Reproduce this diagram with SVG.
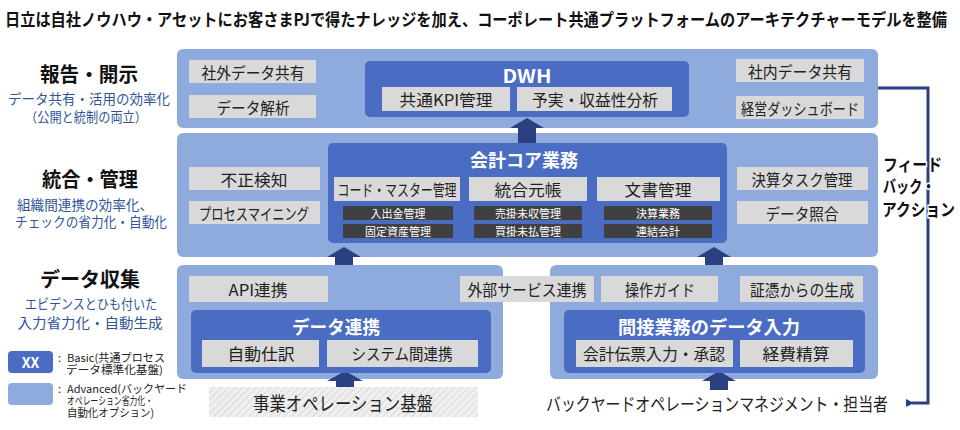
<svg xmlns="http://www.w3.org/2000/svg" width="960" height="430" viewBox="0 0 960 430">
<style>
.band{fill:#8FAADC}
.core{fill:#4A6DC3}
.lbox{fill:#D9D9D9}
.dbox{fill:#404040}
.arrow{fill:#2B4080}
.t{font-family:"Noto Sans CJK JP","Noto Sans",sans-serif;text-anchor:middle;dominant-baseline:central}
.box{font-size:16px;fill:#222}
.small{font-size:11px;fill:#fff}
.ttl{font-size:18px;font-weight:bold;fill:#fff}
.head{font-size:20px;font-weight:bold;fill:#111}
.sub{font-size:13.5px;fill:#2F5597}
.leg{font-family:"Noto Sans CJK JP","Noto Sans",sans-serif;font-size:11px;fill:#222;dominant-baseline:central}
.fb{font-family:"Noto Sans CJK JP","Noto Sans",sans-serif;font-size:17px;font-weight:bold;fill:#111;dominant-baseline:central;paint-order:stroke;stroke:#fff;stroke-width:3px}
</style>
<defs>
<pattern id="hatch" width="5" height="5" patternUnits="userSpaceOnUse" patternTransform="rotate(45)">
<rect width="5" height="5" fill="#EFEFEF"/>
<line x1="0" y1="0" x2="0" y2="5" stroke="#D2D2D2" stroke-width="1.5"/>
</pattern>
<marker id="ah" markerWidth="8" markerHeight="8" refX="2" refY="4" orient="auto" markerUnits="userSpaceOnUse">
<path d="M8,0 L0,4 L8,8 Z" fill="#2B4080"/>
</marker>
</defs>

<rect width="960" height="430" fill="#fff"/>

<text id="title" x="5" y="18" font-family="'Noto Sans CJK JP',sans-serif" font-size="17" font-weight="bold" fill="#111" dominant-baseline="central" textLength="942" lengthAdjust="spacingAndGlyphs">日立は自社ノウハウ・アセットにお客さまPJで得たナレッジを加え、コーポレート共通プラットフォームのアーキテクチャーモデルを整備</text>

<g id="labels">
<text class="t head" x="89" y="73" textLength="98" lengthAdjust="spacingAndGlyphs">報告・開示</text>
<text class="t sub" x="89" y="98" textLength="162" lengthAdjust="spacingAndGlyphs">データ共有・活用の効率化</text>
<text class="t sub" x="86" y="116" textLength="122" lengthAdjust="spacingAndGlyphs">（公開と統制の両立）</text>
<text class="t head" x="90" y="178" textLength="96" lengthAdjust="spacingAndGlyphs">統合・管理</text>
<text class="t sub" x="85" y="204" textLength="136" lengthAdjust="spacingAndGlyphs">組織間連携の効率化、</text>
<text class="t sub" x="91" y="221" textLength="152" lengthAdjust="spacingAndGlyphs">チェックの省力化・自動化</text>
<text class="t head" x="90" y="278" textLength="100" lengthAdjust="spacingAndGlyphs">データ収集</text>
<text class="t sub" x="91" y="303" textLength="132" lengthAdjust="spacingAndGlyphs">エビデンスとひも付いた</text>
<text class="t sub" x="90" y="322" textLength="145" lengthAdjust="spacingAndGlyphs">入力省力化・自動生成</text>
</g>

<g id="legend">
<rect x="8" y="351" width="45" height="22" rx="4" class="core"/>
<text class="t" x="30.5" y="362" font-size="14" font-weight="bold" fill="#fff">XX</text>
<text class="leg"><tspan x="58" y="357">: </tspan><tspan x="67" y="357" textLength="98" lengthAdjust="spacingAndGlyphs">Basic(共通プロセス</tspan><tspan x="66" y="369" textLength="97" lengthAdjust="spacingAndGlyphs">データ標準化基盤)</tspan></text>
<rect x="8" y="383" width="45" height="22" rx="4" class="band"/>
<text class="leg"><tspan x="58" y="388">: </tspan><tspan x="67" y="388" textLength="120" lengthAdjust="spacingAndGlyphs">Advanced(バックヤード</tspan><tspan x="67" y="400" textLength="86" lengthAdjust="spacingAndGlyphs">オペレーション省力化・</tspan><tspan x="67" y="412" textLength="87" lengthAdjust="spacingAndGlyphs">自動化オプション)</tspan></text>
</g>

<g id="band-report">
<rect class="band" x="177" y="49" width="701" height="79" rx="6"/>
</g>
<g id="band-integrate">
<rect class="band" x="177" y="133" width="701" height="124" rx="6"/>
</g>
<g id="band-collect-left">
<rect class="band" x="177" y="265" width="326" height="114" rx="6"/>
</g>
<g id="band-collect-right">
<rect class="band" x="550" y="265" width="328" height="114" rx="6"/>
</g>

<g id="connectors">
<polygon class="arrow" points="518,143 518,128 510,128 527,118 544,128 536,128 536,143"/>
<polygon class="arrow" points="335,265 335,257 327,257 344,247 361,257 353,257 353,265"/>
<polygon class="arrow" points="705,265 705,257 697,257 714,247 731,257 723,257 723,265"/>
<polygon class="arrow" points="336,388 336,381 327,381 345,371 363,381 354,381 354,388"/>
<polygon class="arrow" points="710,390 710,381 702,381 719,371 736,381 728,381 728,390"/>
<path d="M878,88 H928 V403 H912" fill="none" stroke="#2B4080" stroke-width="3" marker-end="url(#ah)"/>
</g>

<g id="feedback-label">
<text class="fb" x="883" y="163" textLength="59" lengthAdjust="spacingAndGlyphs">フィード</text>
<text class="fb" x="883" y="185" textLength="52" lengthAdjust="spacingAndGlyphs">バック・</text>
<text class="fb" x="882" y="208" textLength="73" lengthAdjust="spacingAndGlyphs">アクション</text>
</g>

<g id="share-external">
<rect class="lbox" x="189" y="60" width="127" height="23"/>
<text class="t box" x="253" y="72" textLength="103" lengthAdjust="spacingAndGlyphs">社外データ共有</text>
</g>
<g id="data-analysis">
<rect class="lbox" x="189" y="95" width="127" height="23"/>
<text class="t box" x="253" y="107" textLength="73" lengthAdjust="spacingAndGlyphs">データ解析</text>
</g>
<g id="share-internal">
<rect class="lbox" x="736" y="59" width="128" height="23"/>
<text class="t box" x="800" y="71" textLength="104" lengthAdjust="spacingAndGlyphs">社内データ共有</text>
</g>
<g id="dashboard">
<rect class="lbox" x="736" y="96" width="128" height="23"/>
<text class="t box" x="800" y="108" textLength="118" lengthAdjust="spacingAndGlyphs">経営ダッシュボード</text>
</g>

<g id="dwh">
<rect class="core" x="365" y="61" width="324" height="56" rx="5"/>
<text class="t ttl" x="527" y="75" font-size="19" textLength="49" lengthAdjust="spacingAndGlyphs">DWH</text>
<rect class="lbox" x="382" y="87" width="128" height="24"/>
<text class="t box" x="446" y="99" textLength="93" lengthAdjust="spacingAndGlyphs">共通KPI管理</text>
<rect class="lbox" x="517" y="87" width="155" height="24"/>
<text class="t box" x="595" y="99" textLength="126" lengthAdjust="spacingAndGlyphs">予実・収益性分析</text>
</g>

<g id="fraud">
<rect class="lbox" x="189" y="167" width="131" height="23"/>
<text class="t box" x="254" y="179" textLength="67" lengthAdjust="spacingAndGlyphs">不正検知</text>
</g>
<g id="process-mining">
<rect class="lbox" x="189" y="201" width="131" height="23"/>
<text class="t box" x="254" y="213" textLength="110" lengthAdjust="spacingAndGlyphs">プロセスマイニング</text>
</g>
<g id="closing-task">
<rect class="lbox" x="737" y="167" width="131" height="23"/>
<text class="t box" x="802" y="179" textLength="101" lengthAdjust="spacingAndGlyphs">決算タスク管理</text>
</g>
<g id="data-matching">
<rect class="lbox" x="737" y="201" width="131" height="23"/>
<text class="t box" x="802" y="213" textLength="73" lengthAdjust="spacingAndGlyphs">データ照合</text>
</g>

<g id="core-accounting">
<rect class="core" x="328" y="143" width="399" height="100" rx="5"/>
<text class="t ttl" x="524" y="159" textLength="108" lengthAdjust="spacingAndGlyphs">会計コア業務</text>
<rect class="lbox" x="334" y="177" width="126" height="24"/>
<text class="t box" x="397" y="189" textLength="119" lengthAdjust="spacingAndGlyphs">コード・マスター管理</text>
<rect class="lbox" x="469" y="177" width="118" height="24"/>
<text class="t box" x="528" y="189" font-size="17" textLength="67" lengthAdjust="spacingAndGlyphs">統合元帳</text>
<rect class="lbox" x="597" y="177" width="123" height="24"/>
<text class="t box" x="658" y="189" font-size="17" textLength="67" lengthAdjust="spacingAndGlyphs">文書管理</text>
<rect class="dbox" x="343" y="206" width="110" height="14"/>
<text class="t small" x="398" y="213">入出金管理</text>
<rect class="dbox" x="343" y="224" width="110" height="14"/>
<text class="t small" x="398" y="231">固定資産管理</text>
<rect class="dbox" x="474" y="206" width="108" height="14"/>
<text class="t small" x="528" y="213">売掛未収管理</text>
<rect class="dbox" x="474" y="224" width="108" height="14"/>
<text class="t small" x="528" y="231">買掛未払管理</text>
<rect class="dbox" x="604" y="206" width="108" height="14"/>
<text class="t small" x="658" y="213">決算業務</text>
<rect class="dbox" x="604" y="224" width="108" height="14"/>
<text class="t small" x="658" y="231">連結会計</text>
</g>

<g id="api">
<rect class="lbox" x="189" y="276" width="139" height="26"/>
<text class="t box" x="258" y="289" textLength="59" lengthAdjust="spacingAndGlyphs">API連携</text>
</g>
<g id="external-service">
<rect class="lbox" x="460" y="276" width="134" height="26"/>
<text class="t box" x="527" y="289" textLength="119" lengthAdjust="spacingAndGlyphs">外部サービス連携</text>
</g>
<g id="operation-guide">
<rect class="lbox" x="601" y="276" width="117" height="26"/>
<text class="t box" x="660" y="289" textLength="70" lengthAdjust="spacingAndGlyphs">操作ガイド</text>
</g>
<g id="from-evidence">
<rect class="lbox" x="740" y="276" width="123" height="26"/>
<text class="t box" x="802" y="289" textLength="104" lengthAdjust="spacingAndGlyphs">証憑からの生成</text>
</g>

<g id="data-link">
<rect class="core" x="191" y="310" width="300" height="63" rx="5"/>
<text class="t ttl" x="336" y="326" textLength="88" lengthAdjust="spacingAndGlyphs">データ連携</text>
<rect class="lbox" x="202" y="340" width="117" height="27"/>
<text class="t box" x="261" y="353" textLength="67" lengthAdjust="spacingAndGlyphs">自動仕訳</text>
<rect class="lbox" x="327" y="340" width="151" height="27"/>
<text class="t box" x="402" y="353" textLength="101" lengthAdjust="spacingAndGlyphs">システム間連携</text>
</g>

<g id="indirect-input">
<rect class="core" x="564" y="310" width="301" height="63" rx="5"/>
<text class="t ttl" x="709" y="326" textLength="182" lengthAdjust="spacingAndGlyphs">間接業務のデータ入力</text>
<rect class="lbox" x="576" y="340" width="157" height="27"/>
<text class="t box" x="654" y="353" textLength="142" lengthAdjust="spacingAndGlyphs">会計伝票入力・承認</text>
<rect class="lbox" x="740" y="340" width="113" height="27"/>
<text class="t box" x="796" y="353" textLength="67" lengthAdjust="spacingAndGlyphs">経費精算</text>
</g>

<g id="business-platform">
<rect x="209" y="387" width="269" height="30" fill="url(#hatch)"/>
<text class="t" x="343" y="402" font-size="19" fill="#222" textLength="180" lengthAdjust="spacingAndGlyphs">事業オペレーション基盤</text>
</g>

<g id="backyard">
<text class="t" x="717" y="403" font-size="18" fill="#222" textLength="342" lengthAdjust="spacingAndGlyphs">バックヤードオペレーションマネジメント・担当者</text>
</g>
</svg>
